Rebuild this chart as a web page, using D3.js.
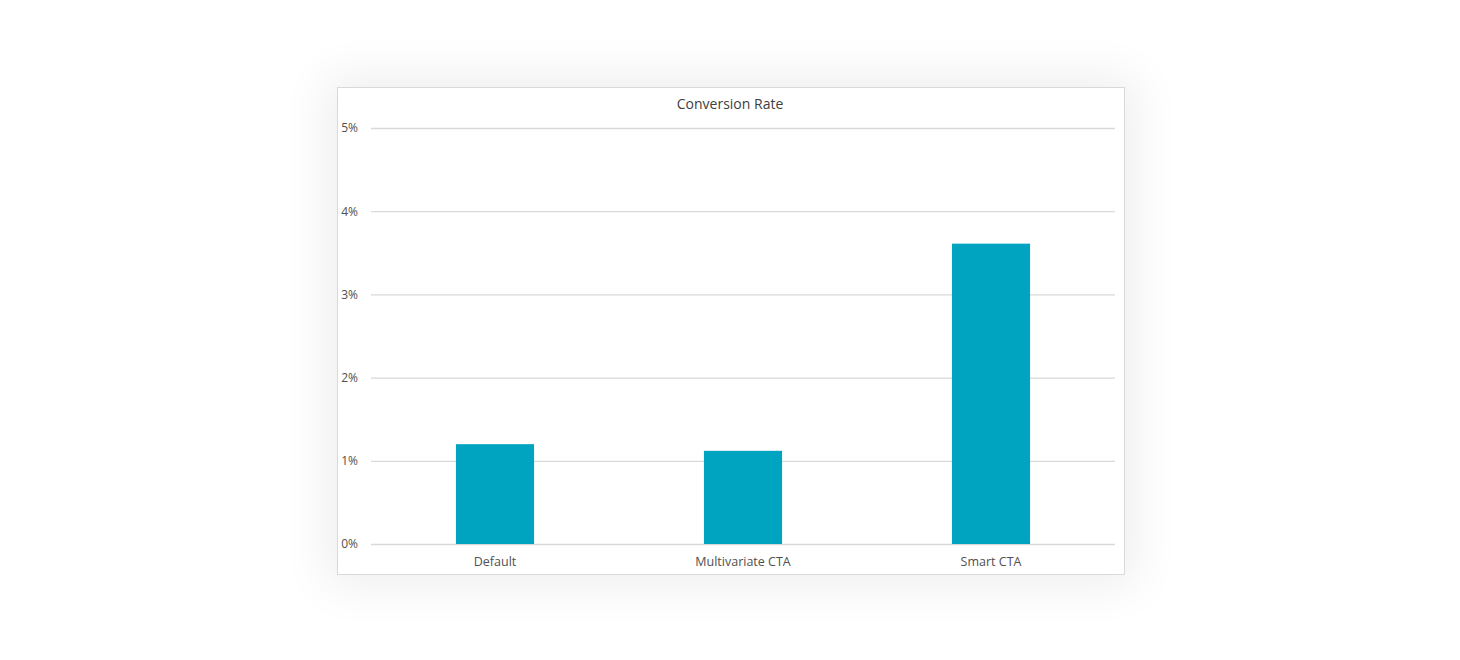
<!DOCTYPE html>
<html><head><meta charset="utf-8">
<script src="https://cdn.jsdelivr.net/npm/d3@7"></script>
<style>
html,body{margin:0;padding:0;background:#fff;}
body{width:1460px;height:660px;position:relative;overflow:hidden;}
#box{position:absolute;left:337px;top:87px;width:786px;height:486px;border:1px solid #d9d9d9;background:#fff;box-shadow:0 0 45px 10px rgba(0,0,0,0.07);}
svg{position:absolute;left:0;top:0;}
</style></head>
<body>
<div id="box"></div>
<svg id="chart" width="1460" height="660"></svg>
<script>
const categories = ["Default", "Multivariate CTA", "Smart CTA"];
const values = [0.012, 0.0112, 0.0361];
const yTicks = [0, 0.01, 0.02, 0.03, 0.04, 0.05];
const title = "Conversion Rate";

(function () {
const svg = d3.select("#chart");
const pLeft = 371, pRight = 1115, pTop = 128, pBottom = 544;
const font = "'Open Sans', 'Noto Sans', sans-serif";
const textColor = "#505050";

const x = d3.scaleBand().domain(categories).range([pLeft, pRight]).paddingInner(0.685).paddingOuter(0.3425);
const y = d3.scaleLinear().domain([0, 0.05]).range([pBottom, pTop]);

const yAxis = d3.axisLeft(y).tickValues(yTicks).tickFormat(d3.format(".0%")).tickSize(-(pRight - pLeft)).tickPadding(13);
const gy = svg.append("g").attr("transform", `translate(${pLeft},0)`).call(yAxis);
gy.select(".domain").remove();
gy.selectAll(".tick line").attr("stroke", "#d9d9d9").attr("stroke-width", 1.3);
gy.selectAll(".tick text").attr("fill", textColor).style("font-family", font).style("font-size", "12px");

svg.append("g").selectAll("rect").data(categories).join("rect")
  .attr("x", d => x(d))
  .attr("width", x.bandwidth())
  .attr("y", (d, i) => y(values[i]))
  .attr("height", (d, i) => y(0) - y(values[i]))
  .attr("fill", "#01a4c0");

const xAxis = d3.axisBottom(x).tickSize(0).tickPadding(13);
const gx = svg.append("g").attr("transform", `translate(0,${pBottom})`).call(xAxis);
gx.select(".domain").remove();
gx.selectAll(".tick text").attr("fill", textColor).style("font-family", font).style("font-size", "12.5px");

svg.append("text").attr("x", 730).attr("y", 109).attr("text-anchor", "middle")
  .attr("fill", "#404040").style("font-family", font).style("font-size", "14px").text(title);
})();
</script>
</body></html>
